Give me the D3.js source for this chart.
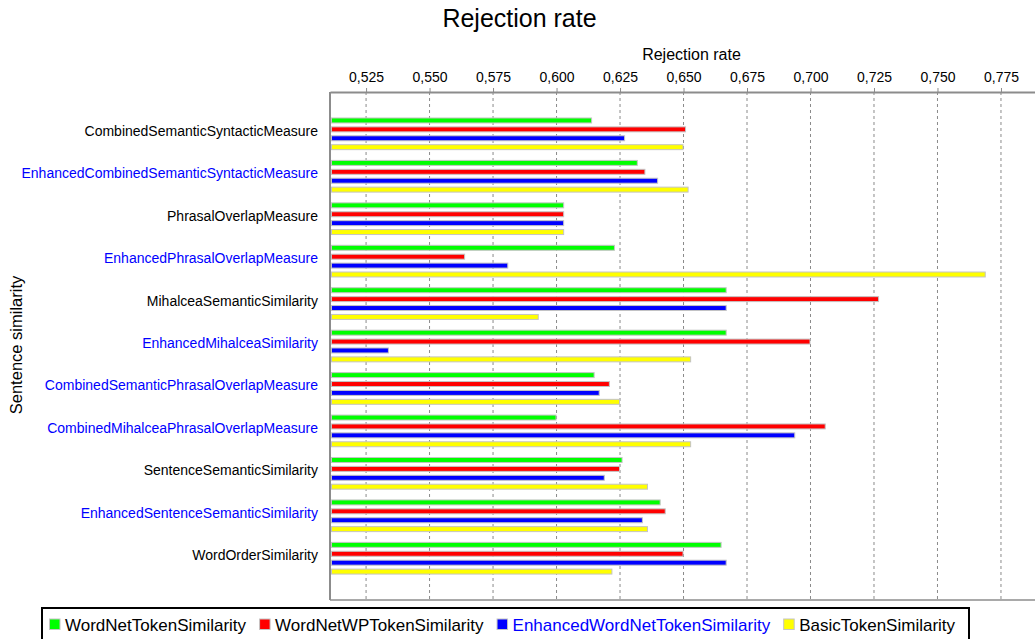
<!DOCTYPE html>
<html>
<head>
<meta charset="utf-8">
<script src="https://cdn.jsdelivr.net/npm/d3@7"></script>
<style>
  html, body { margin: 0; padding: 0; background: #fff; }
  svg { display: block; font-family: "Liberation Sans", Arial, sans-serif; }
</style>
</head>
<body>
<svg id="chart" width="1035" height="639"></svg>
<script>
// ---------- data ----------
const categories = [
  "CombinedSemanticSyntacticMeasure",
  "EnhancedCombinedSemanticSyntacticMeasure",
  "PhrasalOverlapMeasure",
  "EnhancedPhrasalOverlapMeasure",
  "MihalceaSemanticSimilarity",
  "EnhancedMihalceaSimilarity",
  "CombinedSemanticPhrasalOverlapMeasure",
  "CombinedMihalceaPhrasalOverlapMeasure",
  "SentenceSemanticSimilarity",
  "EnhancedSentenceSemanticSimilarity",
  "WordOrderSimilarity"
];
const blueCategories = [
  "EnhancedCombinedSemanticSyntacticMeasure",
  "EnhancedPhrasalOverlapMeasure",
  "EnhancedMihalceaSimilarity",
  "CombinedSemanticPhrasalOverlapMeasure",
  "CombinedMihalceaPhrasalOverlapMeasure",
  "EnhancedSentenceSemanticSimilarity"
];
const seriesNames = [
  "WordNetTokenSimilarity",
  "WordNetWPTokenSimilarity",
  "EnhancedWordNetTokenSimilarity",
  "BasicTokenSimilarity"
];
const seriesColors = ["#00ff00", "#ff0000", "#0000ff", "#ffff00"];
const legendTextColors = ["#000000", "#000000", "#0000ff", "#000000"];

const wordNetTokenSimilarity         = [0.614, 0.632, 0.603, 0.623, 0.667, 0.667, 0.615, 0.600, 0.626, 0.641, 0.665];
const wordNetWPTokenSimilarity       = [0.651, 0.635, 0.603, 0.564, 0.727, 0.700, 0.621, 0.706, 0.625, 0.643, 0.650];
const enhancedWordNetTokenSimilarity = [0.627, 0.640, 0.603, 0.581, 0.667, 0.534, 0.617, 0.694, 0.619, 0.634, 0.667];
const basicTokenSimilarity           = [0.650, 0.652, 0.603, 0.769, 0.593, 0.653, 0.625, 0.653, 0.636, 0.636, 0.622];

const tickValues = [0.525, 0.550, 0.575, 0.600, 0.625, 0.650, 0.675, 0.700, 0.725, 0.750, 0.775];
const axisDomain = [0.5108, 0.7884];

const titleText = "Rejection rate";
const xAxisTitle = "Rejection rate";
const yAxisTitle = "Sentence similarity";

// ---------- layout ----------
const svg = d3.select("#chart");
const plotLeft = 330, plotRight = 1035, plotTop = 92, plotBottom = 600;

const allSeries = [wordNetTokenSimilarity, wordNetWPTokenSimilarity, enhancedWordNetTokenSimilarity, basicTokenSimilarity];
const rows = categories.map((c, i) => ({cat: c, vals: allSeries.map((s, k) => ({k, v: s[i]}))}));

const x = d3.scaleLinear().domain(axisDomain).range([plotLeft, plotRight]);
const y = d3.scaleBand().domain(categories).range([112.6, 579.44]).paddingInner(0.23).paddingOuter(0.115);
const yInner = d3.scaleBand().domain(d3.range(seriesNames.length)).range([0, y.bandwidth()]).paddingInner(0.33);

const locale = d3.formatLocale({decimal: ",", thousands: ".", grouping: [3], currency: ["", ""]});
const fmt = locale.format(".3f");

// title
svg.append("text").attr("x", 519.5).attr("y", 27).attr("text-anchor", "middle")
  .style("font-size", "25px").attr("fill", "#000").text(titleText);

// x axis title
svg.append("text").attr("x", 691.5).attr("y", 60).attr("text-anchor", "middle")
  .style("font-size", "16px").attr("fill", "#000").text(xAxisTitle);

// y axis title
svg.append("text").attr("transform", "translate(22,345) rotate(-90)").attr("text-anchor", "middle")
  .style("font-size", "16.5px").attr("fill", "#000").text(yAxisTitle);

// gridlines
svg.append("g").selectAll("line").data(tickValues).join("line")
  .attr("x1", d => x(d)).attr("x2", d => x(d))
  .attr("y1", plotTop).attr("y2", plotBottom)
  .attr("stroke", "#8a8a8a").attr("stroke-width", 1).attr("stroke-dasharray", "3,3");

// top axis
const xAxis = d3.axisTop(x).tickValues(tickValues).tickFormat(fmt).tickSizeOuter(0).tickSizeInner(4).tickPadding(6);
const gx = svg.append("g").attr("transform", `translate(0,${plotTop})`).call(xAxis);
gx.select(".domain").attr("stroke", "#8c8c8c").attr("stroke-width", 2);
gx.selectAll(".tick line").attr("stroke", "#8c8c8c");
gx.selectAll(".tick text").style("font-size", "14px").style("font-family", "'Liberation Sans', Arial, sans-serif").attr("fill", "#000");

// plot outline left and bottom
svg.append("line").attr("x1", plotLeft).attr("x2", plotLeft).attr("y1", plotTop).attr("y2", plotBottom)
  .attr("stroke", "#8c8c8c").attr("stroke-width", 2);
svg.append("line").attr("x1", plotLeft).attr("x2", plotRight).attr("y1", plotBottom).attr("y2", plotBottom)
  .attr("stroke", "#8c8c8c").attr("stroke-width", 1.5);

// category labels
svg.append("g").selectAll("text").data(categories).join("text")
  .attr("x", 318).attr("y", d => y(d) + y.bandwidth() / 2 + 2)
  .attr("text-anchor", "end").style("font-size", "14px")
  .attr("fill", d => blueCategories.includes(d) ? "#0000ff" : "#000")
  .text(d => d);

// bars
const groups = svg.append("g").selectAll("g").data(rows).join("g")
  .attr("transform", d => `translate(0,${y(d.cat)})`);
groups.selectAll("rect").data(d => d.vals).join("rect")
  .attr("x", x(axisDomain[0]) + 1.5)
  .attr("y", d => yInner(d.k) + 0.5)
  .attr("width", d => Math.max(0, x(d.v) - x(axisDomain[0]) - 2))
  .attr("height", yInner.bandwidth() - 1)
  .attr("fill", d => seriesColors[d.k])
  .attr("stroke", "#c4c4c4").attr("stroke-width", 1);

// legend
const legendG = svg.append("g");
legendG.append("rect").attr("x", 42).attr("y", 608).attr("width", 927).attr("height", 40)
  .attr("fill", "#fff").attr("stroke", "#000").attr("stroke-width", 2);
let lx = 49;
seriesNames.forEach((name, k) => {
  legendG.append("rect").attr("x", lx + 0.5).attr("y", 619).attr("width", 10.5).attr("height", 10.5)
    .attr("fill", seriesColors[k]).attr("stroke", "#c4c4c4").attr("stroke-width", 1);
  const t = legendG.append("text").attr("x", lx + 16).attr("y", 630.5)
    .style("font-size", "17px").attr("fill", legendTextColors[k]).text(name);
  lx = lx + 16 + t.node().getComputedTextLength() + 13;
});
</script>
</body>
</html>
